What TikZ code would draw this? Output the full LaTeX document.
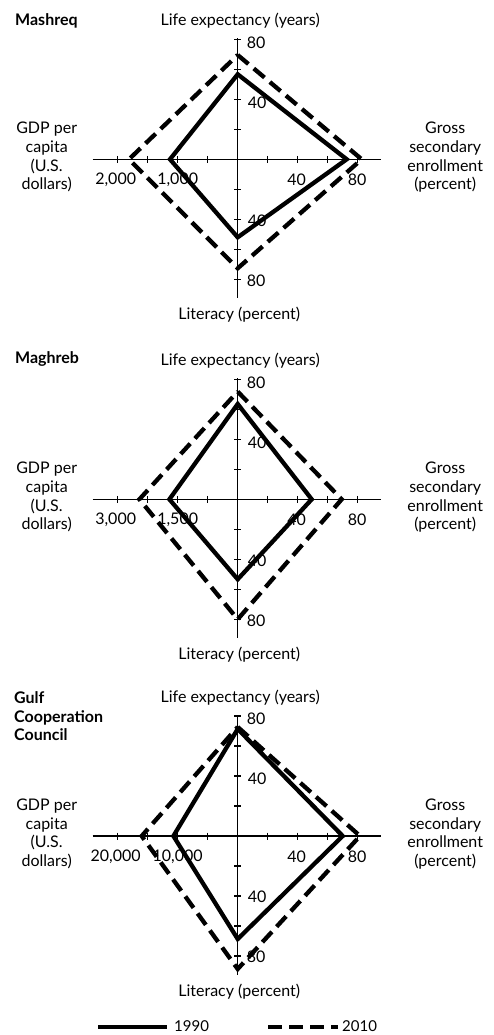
\documentclass[tikz,border=0pt]{standalone}
\usepackage{fontspec}
\setmainfont{Lato}
\newcommand\radaraxes[5]{%
  % #1 prefix, #2 centre y, #3 near left label, #4 far left label, #5 series
  \begin{scope}[shift={(237.7,#2)}]
    \coordinate (#1c) at (0,0);
    \coordinate (#1xl) at (-145,0);
    \coordinate (#1xr) at (143,0);
    \coordinate (#1yt) at (0,-121);
    \coordinate (#1yb) at (0,139);
    \draw[axis] (#1xl) -- (#1xr);
    \draw[axis] (#1yt) -- (#1yb);
    \foreach \k in {-120,-90,-60,-30,30,60,90,120} {
      \draw[axis] (\k,-3.5) -- (\k,3.5);
      \draw[axis] (-3.5,\k) -- (3.5,\k);
    }
    \node[ticklab] (#1vt80) at (9,-117) {80};
    \node[ticklab] (#1vt40) at (10,-57) {40};
    \node[ticklab] (#1vb40) at (10,61) {40};
    \node[ticklab] (#1vb80) at (9,121) {80};
    \node[htlab] (#1hr40) at (59,20.5) {40};
    \node[htlab] (#1hr80) at (119.5,20.5) {80};
    \node[htlab] (#1hl1) at (-60,20.5) {#3};
    \node[htlab] (#1hl2) at (-122,20.5) {#4};
    \node[lab, anchor=base] (#1life) at (2.5,-134) {Life expectancy (years)};
    \node[lab, anchor=base] (#1lit) at (1.5,160.5) {Literacy (percent)};
    \node[lab, align=center] (#1gdp) at (-191,-2) {GDP per\\capita\\(U.S.\\dollars)};
    \node[lab, align=center] (#1gross) at (207.5,-2) {Gross\\secondary\\enrollment\\(percent)};
    #5
  \end{scope}}
\begin{document}
\begin{tikzpicture}[x=1pt,y=-1pt,
  axis/.style={line width=1.1pt},
  series1990/.style={line width=4.3pt, line join=miter, miter limit=10},
  series2010/.style={line width=4.3pt, line join=miter, miter limit=10, dash pattern=on 14pt off 7pt},
  lab/.style={font=\fontsize{16}{18.7}\selectfont, inner sep=0pt},
  ticklab/.style={lab, anchor=west},
  htlab/.style={lab, anchor=center},
  paneltitle/.style={font=\fontsize{16}{18.4}\selectfont\bfseries, inner sep=0pt, align=left, anchor=base west}
]
\useasboundingbox (0,0) rectangle (493,1035);

% ---------- Mashreq ----------
\node[paneltitle] (t1) at (15,25.5) {Mashreq};
\radaraxes{a}{159.3}{1,000}{2,000}{%
  \coordinate (a90t) at (0,-85);
  \coordinate (a90r) at (109,0);
  \coordinate (a90b) at (0,78);
  \coordinate (a90l) at (-67.7,0);
  \coordinate (a10t) at (0,-104.3);
  \coordinate (a10r) at (124,0);
  \coordinate (a10b) at (0,109);
  \coordinate (a10l) at (-108.7,0);
  \draw[series1990] (a90t) -- (a90r) -- (a90b) -- (a90l) -- cycle;
  \draw[series2010] (a10t) -- (a10r) -- (a10b) -- (a10l) -- cycle;
}

% ---------- Maghreb ----------
\node[paneltitle] (t2) at (15,363.5) {Maghreb};
\radaraxes{b}{499.3}{1,500}{3,000}{%
  \coordinate (b90t) at (0,-95.3);
  \coordinate (b90r) at (74,0);
  \coordinate (b90b) at (0,80);
  \coordinate (b90l) at (-68.3,0);
  \coordinate (b10t) at (0,-107.7);
  \coordinate (b10r) at (104,0);
  \coordinate (b10b) at (0,120);
  \coordinate (b10l) at (-98.3,0);
  \draw[series1990] (b90t) -- (b90r) -- (b90b) -- (b90l) -- cycle;
  \draw[series2010] (b10t) -- (b10r) -- (b10b) -- (b10l) -- cycle;
}

% ---------- Gulf Cooperation Council ----------
\node[paneltitle] (t3) at (14,740.5) {Gulf\\Cooperation\\Council};
\radaraxes{g}{836}{10,000}{20,000}{%
  \coordinate (g90t) at (0,-107);
  \coordinate (g90r) at (105,0);
  \coordinate (g90b) at (0,103);
  \coordinate (g90l) at (-64.3,0);
  \coordinate (g10t) at (0,-109);
  \coordinate (g10r) at (122.3,0);
  \coordinate (g10b) at (0,133);
  \coordinate (g10l) at (-96,0);
  \draw[series1990] (g90t) -- (g90r) -- (g90b) -- (g90l) -- cycle;
  \draw[series2010] (g10t) -- (g10r) -- (g10b) -- (g10l) -- cycle;
}

% ---------- legend ----------
\coordinate (leg1a) at (98,1026.5);
\coordinate (leg1b) at (167,1026.5);
\coordinate (leg2a) at (268,1026.5);
\coordinate (leg2b) at (338,1026.5);
\draw[series1990, line width=4pt] (leg1a) -- (leg1b);
\node[lab, anchor=west, font=\fontsize{15}{18}\selectfont] (leg1t) at (174,1026.5) {1990};
\draw[series2010, line width=4pt] (leg2a) -- (leg2b);
\node[lab, anchor=west, font=\fontsize{15}{18}\selectfont] (leg2t) at (342,1026.5) {2010};
\end{tikzpicture}
\end{document}
